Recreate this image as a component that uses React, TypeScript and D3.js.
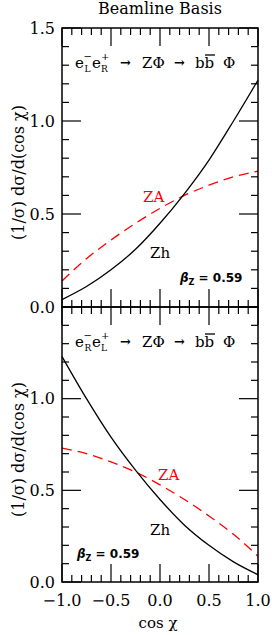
import React from 'react';
import * as d3 from 'd3';

// values
const cosChi = [-1, -0.75, -0.5, -0.25, 0, 0.25, 0.5, 0.75, 1];
const zhLR = [0.04, 0.11, 0.2, 0.31, 0.45, 0.61, 0.79, 1.0, 1.22];
const zaLR = [0.14, 0.26, 0.36, 0.45, 0.53, 0.6, 0.655, 0.7, 0.73];
const zhRL = [1.23, 1.0, 0.79, 0.61, 0.45, 0.31, 0.2, 0.11, 0.04];
const zaRL = [0.73, 0.7, 0.655, 0.6, 0.53, 0.45, 0.36, 0.26, 0.14];

const xTicks = [-1, -0.5, 0, 0.5, 1];
const topYTicks = [0, 0.5, 1.0, 1.5];
const bottomYTicks = [0, 0.5, 1.0];
const betaZ = 0.59;

const W = 272;
const H = 635;
const left = 62;
const right = 258;
const top = 28;
const mid = 307;
const bottom = 582;

const serif = '"DejaVu Serif", serif';
const sans = '"DejaVu Sans", sans-serif';
const fmt = d3.format('.1f');

const xScale = d3.scaleLinear().domain([-1, 1]).range([left, right]);

const minorX = d3.range(-10, 11).map((i) => i / 10);
const minorY = d3.range(0, 16).map((i) => i / 10);
const isMajor = (v: number) => Math.abs(v * 2 - Math.round(v * 2)) < 1e-6;

function Reaction({ x, y, first, second }: { x: number; y: number; first: string; second: string }) {
    // e- e+ -> Z Phi -> b bbar Phi
    return (
        <g fontFamily={serif} fill="#000">
            <text x={x} y={y} fontSize={15}>e</text>
            <text x={x + 8.5} y={y - 8} fontSize={10}>−</text>
            <text x={x + 9.5} y={y + 4} fontSize={9}>{first}</text>
            <text x={x + 17} y={y} fontSize={15}>e</text>
            <text x={x + 26} y={y - 8} fontSize={10}>+</text>
            <text x={x + 26} y={y + 4} fontSize={9}>{second}</text>
            <text x={x + 45} y={y - 1} fontSize={13} fontWeight="bold">→</text>
            <text x={x + 67} y={y} fontSize={15}>ZΦ</text>
            <text x={x + 99} y={y - 1} fontSize={13} fontWeight="bold">→</text>
            <text x={x + 120} y={y} fontSize={15}>bb</text>
            <line x1={x + 130} x2={x + 140} y1={y - 13} y2={y - 13} stroke="#000" strokeWidth={1.3} />
            <text x={x + 148} y={y} fontSize={15}>Φ</text>
        </g>
    );
}

function Panel({ y0, y1, zh, za, yTicks, first, second, labels }: any) {
    const yScale = d3.scaleLinear().domain([0, 1.5]).range([y1, y0]);

    const line = d3.line<number>()
        .x((_, i) => xScale(cosChi[i]))
        .y((d) => yScale(d))
        .curve(d3.curveMonotoneX);

    return (
        <g>
            {/* ticks on all four sides, pointing in */}
            {minorX.map((v) => {
                const len = isMajor(v) ? 18 : 7;
                return (
                    <g key={'x' + v} stroke="#000" strokeWidth={1.2}>
                        <line x1={xScale(v)} x2={xScale(v)} y1={y0} y2={y0 + len} />
                        <line x1={xScale(v)} x2={xScale(v)} y1={y1} y2={y1 - len} />
                    </g>
                );
            })}
            {minorY.map((v) => {
                const len = isMajor(v) ? 19 : 7;
                return (
                    <g key={'y' + v} stroke="#000" strokeWidth={1.2}>
                        <line x1={left} x2={left + len} y1={yScale(v)} y2={yScale(v)} />
                        <line x1={right} x2={right - len} y1={yScale(v)} y2={yScale(v)} />
                    </g>
                );
            })}
            {yTicks.map((v: number) => (
                <text key={'yl' + v} x={55} y={yScale(v)} dy="0.36em" textAnchor="end"
                    fontFamily={serif} fontSize={16}>{fmt(v)}</text>
            ))}

            <path d={line(za) || ''} fill="none" stroke="#ff0000" strokeWidth={1.3} strokeDasharray="10,6" />
            <path d={line(zh) || ''} fill="none" stroke="#000" strokeWidth={1.3} />

            <rect x={left} y={y0} width={right - left} height={y1 - y0} fill="none" stroke="#000" strokeWidth={1.5} />

            <Reaction x={75} y={y0 + 40} first={first} second={second} />

            <text x={labels.za[0]} y={labels.za[1]} fontFamily={serif} fontSize={15} fill="#ff0000">ZA</text>
            <text x={labels.zh[0]} y={labels.zh[1]} fontFamily={serif} fontSize={15}>Zh</text>
            <text x={labels.beta[0]} y={labels.beta[1]} fontFamily={sans} fontSize={12} fontWeight={600}>
                <tspan fontStyle="italic" fontWeight="bold">β</tspan>
                <tspan fontSize={8} dy={3} fontWeight="bold">Z</tspan>
                <tspan dy={-3}> = {betaZ}</tspan>
            </text>

            <text transform={`translate(24,${(y0 + y1) / 2 + 5}) rotate(-90)`} textAnchor="middle"
                fontFamily={serif} fontSize={16}>(1/σ) dσ/d(cos χ)</text>
        </g>
    );
}

export default function App() {
    return (
        <svg width={W} height={H} style={{ position: 'absolute', left: 0, top: 0, background: '#fff' }}>
            <text x={160} y={14} textAnchor="middle" fontFamily={serif} fontSize={16}>Beamline Basis</text>

            <Panel y0={top} y1={mid} zh={zhLR} za={zaLR} yTicks={topYTicks} first="L" second="R"
                labels={{ za: [143, 202], zh: [150, 258], beta: [180, 282] }} />
            <Panel y0={mid} y1={bottom} zh={zhRL} za={zaRL} yTicks={bottomYTicks} first="R" second="L"
                labels={{ za: [158, 480], zh: [150, 535], beta: [77, 558] }} />

            {xTicks.map((v) => (
                <text key={'xl' + v} x={xScale(v)} y={606} textAnchor="middle"
                    fontFamily={serif} fontSize={16}>{fmt(v)}</text>
            ))}
            <text x={158} y={628} textAnchor="middle" fontFamily={serif} fontSize={15}>cos χ</text>
        </svg>
    );
}
